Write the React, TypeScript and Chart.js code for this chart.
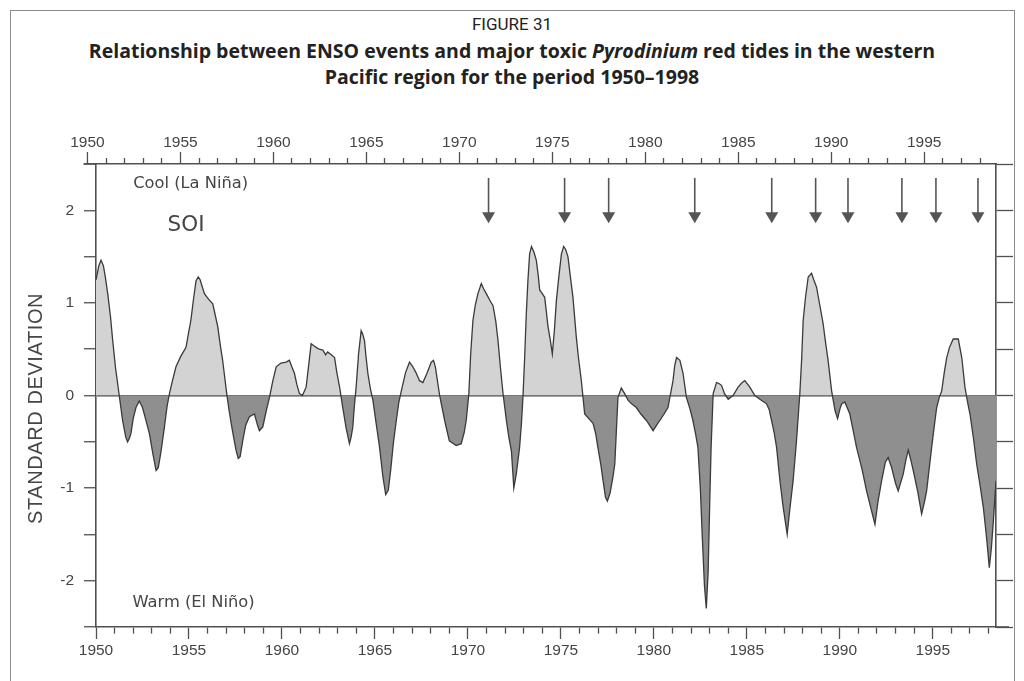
import React, { useEffect, useRef } from 'react';
import { Chart, registerables } from 'chart.js';

Chart.register(...registerables);

// ---- Data ----
const soiYears = [
  1950.0, 1950.15, 1950.27, 1950.4, 1950.5, 1950.63, 1950.78, 1950.9, 1951.05, 1951.25,
  1951.43, 1951.6, 1951.7, 1951.8, 1951.88, 1952.0, 1952.15, 1952.33, 1952.5, 1952.7,
  1952.87, 1953.05, 1953.23, 1953.35, 1953.5, 1953.68, 1953.82, 1953.95, 1954.1, 1954.3,
  1954.55, 1954.84, 1955.0, 1955.1, 1955.25, 1955.38, 1955.5, 1955.6, 1955.83, 1956.05,
  1956.28, 1956.4, 1956.55, 1956.68, 1956.81, 1956.92, 1957.03, 1957.15, 1957.27, 1957.4,
  1957.53, 1957.65, 1957.75, 1957.89, 1958.05, 1958.25, 1958.52, 1958.7, 1958.79, 1958.97,
  1959.15, 1959.33, 1959.5, 1959.69, 1959.95, 1960.23, 1960.4, 1960.55, 1960.67, 1960.8,
  1960.94, 1961.1, 1961.3, 1961.45, 1961.57, 1961.7, 1961.84, 1962.0, 1962.2, 1962.35,
  1962.46, 1962.65, 1962.83, 1962.95, 1963.1, 1963.27, 1963.45, 1963.63, 1963.72, 1963.81,
  1963.9, 1963.99, 1964.12, 1964.26, 1964.35, 1964.44, 1964.52, 1964.62, 1964.75, 1964.89,
  1965.05, 1965.25, 1965.43, 1965.58, 1965.72, 1965.85, 1966.0, 1966.15, 1966.28, 1966.42,
  1966.65, 1966.86, 1967.04, 1967.2, 1967.4, 1967.58, 1967.8, 1968.03, 1968.15, 1968.25,
  1968.48, 1968.75, 1969.0, 1969.37, 1969.64, 1969.8, 1969.91, 1970.05, 1970.15, 1970.27,
  1970.4, 1970.54, 1970.72, 1970.85, 1970.99, 1971.2, 1971.35, 1971.5, 1971.62, 1971.75,
  1971.89, 1972.07, 1972.2, 1972.34, 1972.47, 1972.6, 1972.78, 1972.88, 1972.96, 1973.05,
  1973.14, 1973.23, 1973.32, 1973.42, 1973.55, 1973.68, 1973.78, 1973.86, 1974.0, 1974.13,
  1974.22, 1974.31, 1974.43, 1974.54, 1974.65, 1974.76, 1974.9, 1975.03, 1975.15, 1975.25,
  1975.38, 1975.5, 1975.65, 1975.83, 1975.95, 1976.1, 1976.28, 1976.5, 1976.73, 1976.88,
  1976.99, 1977.15, 1977.27, 1977.4, 1977.5, 1977.65, 1977.8, 1977.9, 1977.98, 1978.07,
  1978.25, 1978.43, 1978.61, 1978.8, 1979.06, 1979.3, 1979.6, 1979.8, 1979.96, 1980.15,
  1980.32, 1980.55, 1980.76, 1980.9, 1981.03, 1981.12, 1981.22, 1981.4, 1981.57, 1981.75,
  1981.95, 1982.1, 1982.25, 1982.37, 1982.5, 1982.6, 1982.72, 1982.82, 1982.92, 1983.0,
  1983.08, 1983.19, 1983.37, 1983.5, 1983.64, 1983.8, 1984.0, 1984.26, 1984.53, 1984.75,
  1984.89, 1985.05, 1985.16, 1985.43, 1985.7, 1986.06, 1986.2, 1986.33, 1986.47, 1986.6,
  1986.78, 1986.95, 1987.17, 1987.3, 1987.49, 1987.67, 1987.85, 1987.95, 1988.03, 1988.15,
  1988.3, 1988.48, 1988.6, 1988.75, 1988.92, 1989.1, 1989.25, 1989.37, 1989.56, 1989.74,
  1989.88, 1990.0, 1990.1, 1990.27, 1990.54, 1990.72, 1990.9, 1991.2, 1991.44, 1991.65,
  1991.89, 1992.05, 1992.25, 1992.45, 1992.6, 1992.79, 1993.0, 1993.14, 1993.41, 1993.55,
  1993.68, 1993.8, 1993.95, 1994.2, 1994.4, 1994.55, 1994.67, 1994.8, 1994.94, 1995.08,
  1995.21, 1995.35, 1995.48, 1995.62, 1995.75, 1995.9, 1996.1, 1996.37, 1996.56, 1996.73,
  1996.85, 1997.0, 1997.18, 1997.36, 1997.55, 1997.72, 1997.9, 1998.04, 1998.15, 1998.26,
  1998.4,
];

const soiValues = [
  1.25, 1.40, 1.46, 1.40, 1.28, 1.10, 0.85, 0.59, 0.30, 0.00,
  -0.27, -0.45, -0.50, -0.46, -0.41, -0.25, -0.13, -0.06, -0.13, -0.28,
  -0.41, -0.62, -0.81, -0.78, -0.60, -0.34, -0.12, 0.02, 0.15, 0.31,
  0.42, 0.52, 0.70, 0.81, 1.05, 1.24, 1.28, 1.25, 1.10, 1.04,
  0.99, 0.88, 0.74, 0.55, 0.38, 0.20, 0.02, -0.15, -0.30, -0.45,
  -0.59, -0.68, -0.66, -0.49, -0.32, -0.23, -0.20, -0.33, -0.38, -0.34,
  -0.17, -0.02, 0.15, 0.31, 0.35, 0.36, 0.38, 0.30, 0.24, 0.12,
  0.02, 0.00, 0.09, 0.35, 0.56, 0.54, 0.52, 0.50, 0.49, 0.44,
  0.47, 0.44, 0.41, 0.25, 0.09, -0.13, -0.35, -0.52, -0.45, -0.34,
  -0.10, 0.09, 0.45, 0.70, 0.66, 0.59, 0.42, 0.24, 0.08, -0.05,
  -0.28, -0.56, -0.88, -1.07, -1.02, -0.80, -0.50, -0.27, -0.08, 0.05,
  0.25, 0.36, 0.31, 0.25, 0.16, 0.14, 0.24, 0.36, 0.38, 0.31,
  0.00, -0.27, -0.49, -0.54, -0.52, -0.40, -0.27, 0.02, 0.45, 0.81,
  0.98, 1.10, 1.21, 1.15, 1.10, 1.02, 0.97, 0.80, 0.59, 0.30,
  0.02, -0.27, -0.45, -0.60, -1.00, -0.85, -0.56, -0.30, -0.02, 0.40,
  0.88, 1.25, 1.53, 1.61, 1.55, 1.46, 1.30, 1.14, 1.10, 1.06,
  0.90, 0.74, 0.60, 0.45, 0.70, 1.03, 1.30, 1.53, 1.61, 1.58,
  1.50, 1.30, 1.06, 0.63, 0.40, 0.16, -0.20, -0.25, -0.30, -0.42,
  -0.56, -0.75, -0.92, -1.10, -1.14, -1.05, -0.88, -0.74, -0.40, -0.02,
  0.08, 0.02, -0.05, -0.09, -0.13, -0.20, -0.27, -0.33, -0.38, -0.32,
  -0.27, -0.20, -0.13, 0.02, 0.16, 0.32, 0.41, 0.38, 0.24, -0.02,
  -0.15, -0.27, -0.42, -0.56, -1.00, -1.50, -2.05, -2.30, -1.90, -1.20,
  -0.55, 0.02, 0.14, 0.13, 0.11, 0.02, -0.04, 0.00, 0.09, 0.14,
  0.16, 0.12, 0.09, 0.00, -0.04, -0.09, -0.15, -0.27, -0.40, -0.56,
  -0.92, -1.20, -1.50, -1.25, -0.92, -0.49, 0.02, 0.40, 0.81, 1.05,
  1.28, 1.32, 1.25, 1.17, 0.98, 0.78, 0.55, 0.38, 0.05, -0.16,
  -0.25, -0.15, -0.09, -0.07, -0.20, -0.38, -0.56, -0.80, -1.03, -1.20,
  -1.39, -1.15, -0.92, -0.72, -0.67, -0.78, -0.95, -1.03, -0.85, -0.70,
  -0.59, -0.68, -0.81, -1.05, -1.28, -1.15, -1.03, -0.80, -0.56, -0.33,
  -0.13, -0.02, 0.05, 0.25, 0.41, 0.52, 0.61, 0.61, 0.41, 0.09,
  -0.05, -0.20, -0.45, -0.74, -0.98, -1.21, -1.55, -1.86, -1.65, -1.35,
  -0.92,
];

// Years of major toxic Pyrodinium red tides (arrows)
const eventYears = [1971.11, 1975.2, 1977.57, 1982.2, 1986.34, 1988.7, 1990.44, 1993.34, 1995.17, 1997.43];

// Axis setup
const X_MIN = 1950;
const X_MAX = 1998.4;
const TOP_AXIS_SHIFT = 0.46;
const TOP_FIRST_YEAR = 1950;
const Y_MIN = -2.5;
const Y_MAX = 2.5;
const labeledYearStep = 5;
const yTickStep = 0.5;

// Arrow geometry in data units
const ARROW_TOP = 2.35;
const ARROW_BASE = 1.98;
const ARROW_TIP = 1.86;

const AXIS_COLOR = '#505050';
const TEXT_COLOR = '#454545';
const TICK_FONT = { family: "'Liberation Sans', Arial, sans-serif", size: 15.5 };

const isWhole = (v: number) => Math.abs(v - Math.round(v)) < 1e-6;
const isMajorYear = (v: number) => isWhole(v) && Math.round(v) % labeledYearStep === 0;
const yearLabel = (v: any) => (isMajorYear(Number(v)) ? String(Math.round(Number(v))) : '');

const overlayPlugin = {
  id: 'overlay',
  afterDatasetsDraw(chart: any) {
    const { ctx, scales, chartArea } = chart;
    const xs = scales.x;
    const x2 = scales.x2;
    const ys = scales.y;
    ctx.save();

    // top axis: first year tick/label lying left of the plot frame, and axis extension
    const p0 = x2.getPixelForValue(TOP_FIRST_YEAR);
    ctx.strokeStyle = AXIS_COLOR;
    ctx.lineWidth = 1.6;
    ctx.beginPath();
    ctx.moveTo(p0 - 4, chartArea.top);
    ctx.lineTo(chartArea.left, chartArea.top);
    ctx.stroke();
    ctx.lineWidth = 1.3;
    ctx.beginPath();
    ctx.moveTo(p0, chartArea.top);
    ctx.lineTo(p0, chartArea.top - 12);
    ctx.stroke();
    ctx.fillStyle = TEXT_COLOR;
    ctx.font = "15.5px 'Liberation Sans', Arial, sans-serif";
    ctx.textAlign = 'center';
    ctx.textBaseline = 'middle';
    ctx.fillText(String(TOP_FIRST_YEAR), p0, chartArea.top - 21);
    // bottom axis extension to the right
    ctx.lineWidth = 1.6;
    ctx.beginPath();
    ctx.moveTo(chartArea.right, chartArea.bottom);
    ctx.lineTo(chartArea.right + 13, chartArea.bottom);
    ctx.stroke();

    // arrows
    ctx.strokeStyle = '#555';
    ctx.fillStyle = '#555';
    ctx.lineWidth = 1.6;
    for (const yr of eventYears) {
      const px = xs.getPixelForValue(yr);
      const top = ys.getPixelForValue(ARROW_TOP);
      const base = ys.getPixelForValue(ARROW_BASE);
      const tip = ys.getPixelForValue(ARROW_TIP);
      ctx.beginPath();
      ctx.moveTo(px, top);
      ctx.lineTo(px, base + 1);
      ctx.stroke();
      ctx.beginPath();
      ctx.moveTo(px - 6.5, base);
      ctx.lineTo(px + 6.5, base);
      ctx.lineTo(px, tip);
      ctx.closePath();
      ctx.fill();
    }

    // annotations
    ctx.fillStyle = TEXT_COLOR;
    ctx.textBaseline = 'middle';
    ctx.textAlign = 'left';
    ctx.font = "16.3px 'DejaVu Sans', sans-serif";
    ctx.fillText('Cool (La Niña)', xs.getPixelForValue(1952.0), ys.getPixelForValue(2.29));
    ctx.fillText('Warm (El Niño)', xs.getPixelForValue(1951.96), ys.getPixelForValue(-2.24));
    ctx.font = "21.5px 'DejaVu Sans', sans-serif";
    ctx.fillText('SOI', xs.getPixelForValue(1953.85), ys.getPixelForValue(1.84));

    // y axis title
    ctx.translate(36, ys.getPixelForValue(-0.14));
    ctx.rotate(-Math.PI / 2);
    ctx.textAlign = 'center';
    ctx.font = "20px 'Liberation Sans', Arial, sans-serif";
    try { (ctx as any).letterSpacing = '0.6px'; } catch (e) {}
    ctx.fillText('STANDARD DEVIATION', 0, 0);
    ctx.restore();
  },
};

export default function App() {
  const canvasRef = useRef<HTMLCanvasElement | null>(null);

  useEffect(() => {
    if (!canvasRef.current) return;
    const points = soiYears.map((x, i) => ({ x, y: soiValues[i] }));
    const chart = new Chart(canvasRef.current, {
      type: 'line',
      data: {
        datasets: [
          {
            label: 'SOI',
            data: points,
            xAxisID: 'x',
            yAxisID: 'y',
            borderColor: '#3a3a3a',
            borderWidth: 1.3,
            pointRadius: 0,
            tension: 0,
            fill: { target: 'origin', above: '#d3d3d3', below: '#8f8f8f' },
          } as any,
        ],
      },
      options: {
        responsive: false,
        animation: false,
        devicePixelRatio: 1,
        layout: { padding: 0 },
        plugins: {
          legend: { display: false },
          tooltip: { enabled: false },
          title: { display: false },
        },
        scales: {
          x: {
            type: 'linear',
            position: 'bottom',
            min: X_MIN,
            max: X_MAX,
            afterFit: (s: any) => { s.height = 54; },
            ticks: {
              stepSize: 1,
              includeBounds: false,
              autoSkip: false,
              maxRotation: 0,
              padding: 2,
              color: TEXT_COLOR,
              font: TICK_FONT,
              callback: yearLabel,
            },
            grid: {
              drawOnChartArea: false,
              drawTicks: true,
              tickLength: 12,
              tickColor: AXIS_COLOR,
              tickWidth: 1.3,
              tickBorderDash: (c: any) => (isMajorYear(c.tick?.value) ? [] : [6, 100]),
            },
            border: { display: true, color: AXIS_COLOR, width: 1.6 },
          },
          x2: {
            type: 'linear',
            position: 'top',
            min: X_MIN + TOP_AXIS_SHIFT,
            max: X_MAX + TOP_AXIS_SHIFT,
            afterFit: (s: any) => { s.height = 164; },
            ticks: {
              stepSize: 1,
              includeBounds: false,
              autoSkip: false,
              maxRotation: 0,
              padding: 0,
              color: TEXT_COLOR,
              font: TICK_FONT,
              callback: yearLabel,
            },
            grid: {
              drawOnChartArea: false,
              drawTicks: true,
              tickLength: 12,
              tickColor: AXIS_COLOR,
              tickWidth: 1.3,
              tickBorderDash: (c: any) => (isMajorYear(c.tick?.value) ? [] : [6, 6]),
              tickBorderDashOffset: (c: any) => (isMajorYear(c.tick?.value) ? 0 : 6),
            },
            border: { display: true, color: AXIS_COLOR, width: 1.6 },
          },
          y: {
            type: 'linear',
            position: 'left',
            min: Y_MIN,
            max: Y_MAX,
            z: 1,
            afterFit: (s: any) => { s.width = 96; },
            ticks: {
              stepSize: yTickStep,
              autoSkip: false,
              padding: 10,
              color: TEXT_COLOR,
              font: TICK_FONT,
              callback: (v: any) => (isWhole(Number(v)) ? String(Math.round(Number(v))) : ''),
            },
            grid: {
              drawOnChartArea: true,
              color: (c: any) => (c.tick && Math.abs(c.tick.value) < 1e-6 ? '#4a4a4a' : 'rgba(0,0,0,0)'),
              lineWidth: 1.5,
              drawTicks: true,
              tickLength: 12,
              tickColor: AXIS_COLOR,
              tickWidth: 1.3,
            },
            border: { display: true, color: AXIS_COLOR, width: 1.6 },
          },
          y2: {
            type: 'linear',
            position: 'right',
            min: Y_MIN,
            max: Y_MAX,
            afterFit: (s: any) => { s.width = 28; },
            ticks: { stepSize: yTickStep, display: false },
            grid: {
              drawOnChartArea: false,
              drawTicks: true,
              tickLength: 17,
              tickColor: AXIS_COLOR,
              tickWidth: 1.3,
            },
            border: { display: true, color: AXIS_COLOR, width: 1.6 },
          },
        },
      } as any,
      plugins: [overlayPlugin],
    });
    return () => chart.destroy();
  }, []);

  return (
    <div style={{ position: 'fixed', left: 0, top: 0, width: 1024, height: 681, background: '#fff', overflow: 'hidden' }}>
      <div style={{ position: 'absolute', left: 10, top: 10, width: 1003, height: 720, border: '1.5px solid #8c8c8c' }} />
      <div style={{ position: 'absolute', left: 0, top: 14, width: 1024, textAlign: 'center', fontFamily: 'Roboto, sans-serif', fontSize: 17, lineHeight: '20px', color: '#222' }}>
        FIGURE 31
      </div>
      <div style={{ position: 'absolute', left: 0, top: 38, width: 1024, textAlign: 'center', fontFamily: "'Open Sans', sans-serif", fontWeight: 700, fontSize: 19.5, lineHeight: '26px', color: '#222' }}>
        <div>Relationship between ENSO events and major toxic <i>Pyrodinium</i> red tides in the western</div>
        <div>Pacific region for the period 1950–1998</div>
      </div>
      <canvas ref={canvasRef} width={1024} height={681} style={{ position: 'absolute', left: 0, top: 0, width: 1024, height: 681 }} />
    </div>
  );
}
